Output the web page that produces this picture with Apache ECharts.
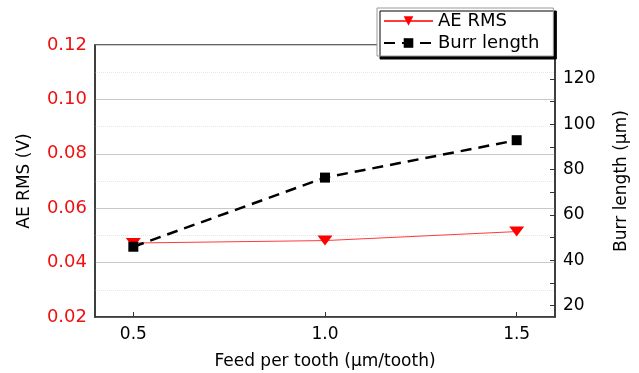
<!DOCTYPE html>
<html>
<head>
<meta charset="utf-8">
<script src="https://cdn.jsdelivr.net/npm/echarts@6/dist/echarts.min.js"></script>
<style>
  html, body { margin: 0; padding: 0; background: #fff; }
  #chart { width: 639px; height: 373px; }
</style>
</head>
<body>
<div id="chart"></div>
<script>
// feed per tooth (µm/tooth)
const feeds = [0.5, 1.0, 1.5];
const aeRms = [0.0472, 0.0481, 0.0514];
const burrLength = [46, 76.5, 93];

const xTicks = [0.5, 1.0, 1.5];
const rightLabels = [20, 40, 60, 80, 100, 120];
const rightTicks = [20, 30, 40, 50, 60, 70, 80, 90, 100, 110, 120];

const font = 'DejaVu Sans';

const chart = echarts.init(document.getElementById('chart'), null, { renderer: 'canvas' });

const option = {
    backgroundColor: '#fff',
    animation: false,
    grid: {
        left: 95, right: 84, top: 45, bottom: 56,
        outerBoundsMode: 'none',
        show: true, borderColor: '#333', borderWidth: 1.5
    },
    legend: {
        orient: 'vertical',
        left: 377, top: 8,
        padding: [4, 14, 4, 6],
        itemGap: 4,
        itemWidth: 49,
        itemHeight: 12,
        backgroundColor: '#fff',
        borderColor: '#999',
        borderWidth: 1,
        shadowColor: '#000',
        shadowBlur: 0,
        shadowOffsetX: 3,
        shadowOffsetY: 3,
        textStyle: { fontFamily: font, fontSize: 18, color: '#000', lineHeight: 18 },
        data: ['AE RMS', 'Burr length']
    },
    xAxis: {
        type: 'value',
        min: 0.4, max: 1.6,
        name: 'Feed per tooth (μm/tooth)',
        nameLocation: 'middle',
        nameGap: 36,
        nameTextStyle: { fontFamily: font, fontSize: 17, color: '#000' },
        axisLine: { show: true, lineStyle: { color: '#333', width: 1.5 } },
        axisTick: { show: true, inside: true, length: 5, customValues: xTicks, lineStyle: { color: '#333' } },
        axisLabel: {
            customValues: xTicks, margin: 9,
            fontFamily: font, fontSize: 17, color: '#000',
            formatter: v => v.toFixed(1)
        },
        splitLine: { show: false }
    },
    yAxis: [
        {
            type: 'value',
            min: 0.02, max: 0.12, interval: 0.02,
            name: 'AE RMS (V)',
            nameLocation: 'middle',
            nameRotate: 90,
            nameGap: 62,
            nameTextStyle: { fontFamily: font, fontSize: 17, color: '#000' },
            axisLine: { show: true, lineStyle: { color: '#333', width: 1.5 } },
            axisTick: { show: false },
            axisLabel: {
                margin: 8, fontFamily: font, fontSize: 18, color: '#ee1111',
                formatter: v => v.toFixed(2)
            },
            splitLine: { show: true, lineStyle: { color: '#c8c8c8', width: 1 } },
            minorTick: { show: false, splitNumber: 2 },
            minorSplitLine: { show: true, lineStyle: { color: '#e6e6e6', type: 'dotted', width: 1 } }
        },
        {
            type: 'value',
            min: 15, max: 135,
            position: 'right',
            name: 'Burr length (μm)',
            nameLocation: 'middle',
            nameRotate: 90,
            nameGap: 58,
            nameTextStyle: { fontFamily: font, fontSize: 17, color: '#000' },
            axisLine: { show: true, lineStyle: { color: '#333', width: 1.5 } },
            axisTick: { show: true, inside: true, length: 5, customValues: rightTicks, lineStyle: { color: '#333' } },
            axisLabel: {
                customValues: rightLabels, margin: 8,
                fontFamily: font, fontSize: 17, color: '#000'
            },
            splitLine: { show: false }
        }
    ],
    series: [
        {
            name: 'AE RMS',
            type: 'line',
            yAxisIndex: 0,
            data: feeds.map((f, i) => [f, aeRms[i]]),
            symbol: 'triangle',
            symbolRotate: 180,
            symbolSize: [15, 10],
            itemStyle: { color: '#ff0000' },
            lineStyle: { color: '#ff3b3b', width: 1 }
        },
        {
            name: 'Burr length',
            type: 'line',
            yAxisIndex: 1,
            data: feeds.map((f, i) => [f, burrLength[i]]),
            symbol: 'rect',
            symbolSize: 10,
            itemStyle: { color: '#000' },
            lineStyle: { color: '#000', width: 2.5, type: [11, 7] }
        }
    ]
};

chart.setOption(option);
</script>
</body>
</html>
